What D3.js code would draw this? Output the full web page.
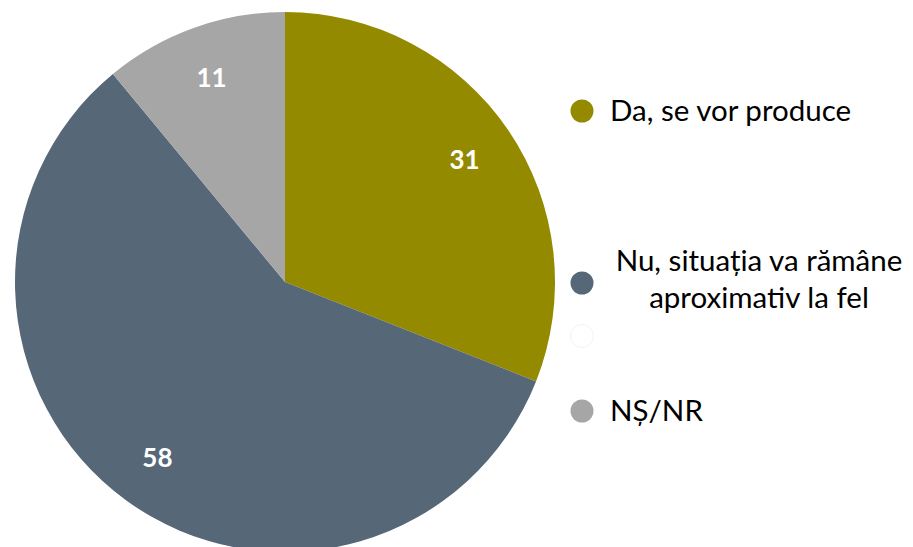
<!DOCTYPE html>
<html><head><meta charset="utf-8">
<script src="https://cdn.jsdelivr.net/npm/d3@7"></script>
<style>body{margin:0;background:#fff}svg{display:block}</style>
</head><body>
<svg id="c" width="913" height="547"></svg>
<script>
const categories = ["Da, se vor produce", "Nu, situația va rămâne aproximativ la fel", "", "NȘ/NR"];
const values = [31, 58, 0, 11];
const colors = ["#948A00", "#566778", "#FFFFFF", "#A6A6A6"];

const svg = d3.select("#c");
const cx = 285, cy = 282, R = 270;
const font = "Lato, 'Open Sans', sans-serif";
const data = categories.map((c, i) => ({cat: c, value: values[i], color: colors[i]}));
const pie = d3.pie().value(d => d.value).sort(null);
const arcs = pie(data).filter(a => a.data.value > 0);
const arc = d3.arc().innerRadius(0).outerRadius(R);
const labelArc = d3.arc().innerRadius(217).outerRadius(217);
const g = svg.append("g").attr("transform", `translate(${cx},${cy})`);
g.selectAll("path").data(arcs).enter().append("path")
  .attr("d", arc).attr("fill", d => d.data.color);
g.selectAll("text").data(arcs).enter().append("text")
  .attr("transform", d => `translate(${labelArc.centroid(d)})`)
  .attr("text-anchor", "middle").attr("dy", "0.35em")
  .attr("fill", "#fff").attr("font-family", font)
  .attr("font-weight", "bold").attr("font-size", 26)
  .text(d => d.data.value);

const ly = [111, 283, 336, 411];
const leg = svg.append("g");
data.forEach((d, i) => {
  leg.append("circle").attr("cx", 582).attr("cy", ly[i]).attr("r", 11.5)
    .attr("fill", d.color).attr("stroke", i === 2 ? "#f2f2f2" : "none").attr("stroke-width", 1);
});
const fs = 29.5;
leg.append("text").attr("x", 610).attr("y", ly[0]).attr("dy", "0.35em")
  .attr("font-family", font).attr("font-size", fs).attr("fill", "#000").text(categories[0]);
const t = leg.append("text").attr("text-anchor", "middle")
  .attr("font-family", font).attr("font-size", fs).attr("fill", "#000");
t.append("tspan").attr("x", 759).attr("y", 261).attr("dy", "0.35em").text("Nu, situația va rămâne");
t.append("tspan").attr("x", 759).attr("y", 298).attr("dy", "0.35em").text("aproximativ la fel");
leg.append("text").attr("x", 610).attr("y", ly[3]).attr("dy", "0.35em")
  .attr("font-family", font).attr("font-size", fs).attr("fill", "#000").text(categories[3]);
</script>
</body></html>
